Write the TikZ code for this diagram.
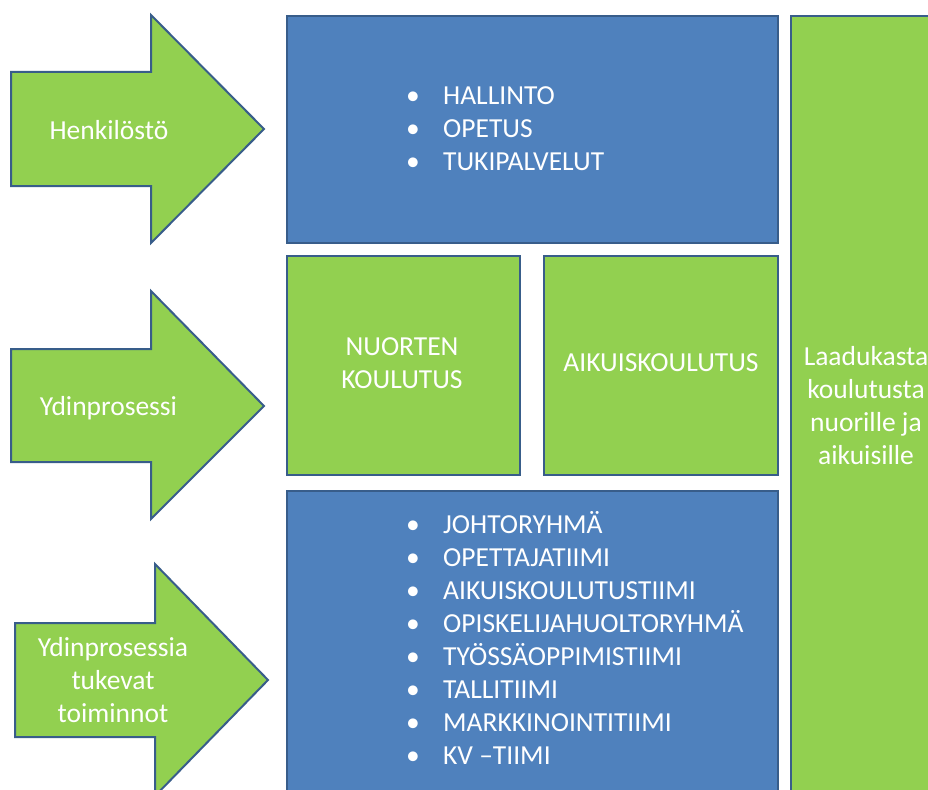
\documentclass[tikz,border=0pt]{standalone}
\usepackage{fontspec}
\setmainfont{Carlito}
\definecolor{boxblue}{HTML}{4F81BD}
\definecolor{edgeblue}{HTML}{385D8A}
\definecolor{boxgreen}{HTML}{92D050}
\begin{document}
\begin{tikzpicture}[x=1pt,y=-1pt,
  outl/.style={draw=edgeblue,line width=2pt,line join=miter},
  bluebox/.style={outl,fill=boxblue,inner sep=0pt,anchor=north west},
  greenbox/.style={outl,fill=boxgreen,inner sep=0pt,anchor=north west},
  arrowshape/.style={outl,fill=boxgreen},
  lbl/.style={text=white,font=\fontsize{27.5}{33}\selectfont,inner sep=0pt,align=center},
  lst/.style={text=white,font=\fontsize{27.5}{33}\selectfont,inner sep=0pt,anchor=north west},
]
\useasboundingbox (0,0) rectangle (928,789);
\clip (0,0) rectangle (928,789);
% arrows
\draw[arrowshape] (11,72) -- (151,72) -- (151,15) -- (264,129) -- (151,243) -- (151,186) -- (11,186) -- cycle;
\draw[arrowshape] (11,349) -- (151,349) -- (151,291) -- (264,406) -- (151,519) -- (151,462) -- (11,462) -- cycle;
\draw[arrowshape] (15,623) -- (155,623) -- (155,564) -- (268,680) -- (155,796) -- (155,737) -- (15,737) -- cycle;
% boxes
\node[bluebox, minimum width=491pt, minimum height=227pt] (staff) at (286,15) {};
\node[greenbox, minimum width=233pt, minimum height=219pt] (young) at (286,255) {};
\node[greenbox, minimum width=234pt, minimum height=219pt] (adult) at (543,255) {};
\node[bluebox, minimum width=491pt, minimum height=320pt] (teams) at (286,490) {};
\node[greenbox, minimum width=152pt, minimum height=800pt] (goal) at (790,15) {};
% arrow labels
\node[lbl, anchor=base] (henk) at (109,139.5) {Henkilöstö};
\node[lbl, anchor=base] (ydin) at (108.5,415) {Ydinprosessi};
\node[lbl] (tuki) at (113,680) {Ydinprosessia\\tukevat\\toiminnot};
% box texts
\node[lst] (staffl) at (406,81.6) {\begin{tabular}{@{}l@{}l@{}}
\makebox[37pt][l]{\textbullet}&HALLINTO\\
\makebox[37pt][l]{\textbullet}&OPETUS\\
\makebox[37pt][l]{\textbullet}&TUKIPALVELUT
\end{tabular}};
\node[lbl] (youngl) at (402,363.5) {NUORTEN\\KOULUTUS};
\node[lbl] (adultl) at (661,363) {AIKUISKOULUTUS};
\node[lst] (teamsl) at (406,510.1) {\begin{tabular}{@{}l@{}l@{}}
\makebox[37pt][l]{\textbullet}&JOHTORYHMÄ\\
\makebox[37pt][l]{\textbullet}&OPETTAJATIIMI\\
\makebox[37pt][l]{\textbullet}&AIKUISKOULUTUSTIIMI\\
\makebox[37pt][l]{\textbullet}&OPISKELIJAHUOLTORYHMÄ\\
\makebox[37pt][l]{\textbullet}&TYÖSSÄOPPIMISTIIMI\\
\makebox[37pt][l]{\textbullet}&TALLITIIMI\\
\makebox[37pt][l]{\textbullet}&MARKKINOINTITIIMI\\
\makebox[37pt][l]{\textbullet}&KV –TIIMI
\end{tabular}};
\node[lbl] (goall) at (866,406) {Laadukasta\\koulutusta\\nuorille ja\\aikuisille};
\end{tikzpicture}
\end{document}
